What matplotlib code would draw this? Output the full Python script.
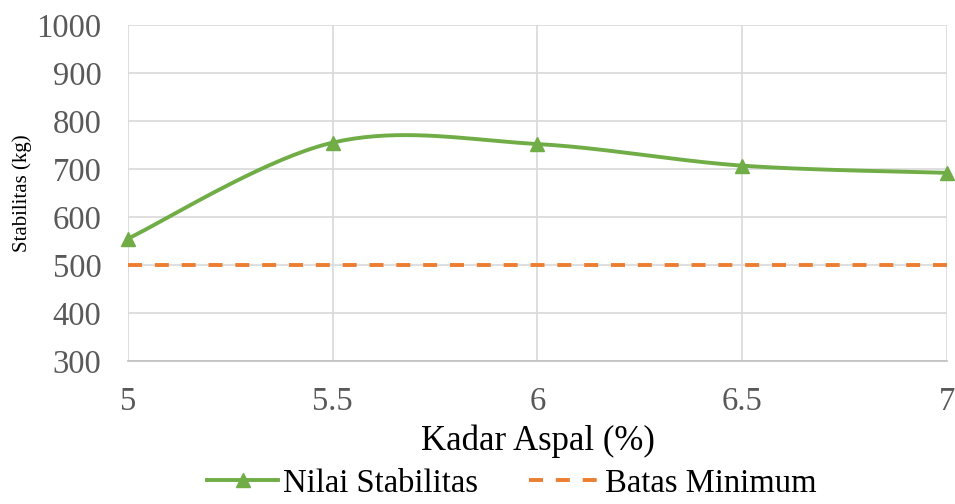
import numpy as np
import matplotlib
matplotlib.use("Agg")
import matplotlib.pyplot as plt
from matplotlib.lines import Line2D

kadar = [5, 5.5, 6, 6.5, 7]
stabilitas = [555, 755, 752, 707, 692]
batas_min = [500, 500, 500, 500, 500]
yticks = [300, 400, 500, 600, 700, 800, 900, 1000]
xticks = [5, 5.5, 6, 6.5, 7]

plt.rcParams['font.family'] = ['Liberation Serif', 'DejaVu Serif']

def smooth(xs, ys, n=40):
    P = np.column_stack([xs, ys]).astype(float)
    Pe = np.vstack([P[0], P, P[-1]])
    out = []
    for i in range(len(P) - 1):
        p0, p1, p2, p3 = Pe[i], Pe[i + 1], Pe[i + 2], Pe[i + 3]
        c1 = p1 + (p2 - p0) / 6
        c2 = p2 - (p3 - p1) / 6
        t = np.linspace(0, 1, n)[:, None]
        seg = (1 - t) ** 3 * p1 + 3 * (1 - t) ** 2 * t * c1 + 3 * (1 - t) * t ** 2 * c2 + t ** 3 * p2
        out.append(seg if i == 0 else seg[1:])
    s = np.vstack(out)
    return s[:, 0], s[:, 1]

fig = plt.figure(figsize=(9.55, 5.04), dpi=100)
ax = fig.add_axes([0.134, 0.2837, 0.8576, 0.6667])

green = '#70ad47'
orange = '#ed7d31'
dash = (0, (3.6, 3.3))

sx, sy = smooth(kadar, stabilitas)
ax.plot(sx, sy, color=green, lw=2.8, zorder=3, solid_capstyle='round')
ax.plot(kadar, stabilitas, ls='none', marker='^', ms=10, color=green, zorder=4, clip_on=False)
ax.plot(kadar, batas_min, color=orange, lw=2.8, ls=dash, zorder=3)

ax.set_xlim(5, 7)
ax.set_ylim(300, 1000)
ax.set_xticks(xticks)
ax.set_xticklabels(['5', '5.5', '6', '6.5', '7'])
ax.set_yticks(yticks)
ax.grid(True, color='#d9d9d9', lw=1.2)
ax.set_axisbelow(True)
for s in ['top', 'right']:
    ax.spines[s].set_visible(False)
ax.spines['left'].set_visible(False)
ax.spines['bottom'].set_color('#bfbfbf')
ax.spines['bottom'].set_linewidth(1.2)
ax.tick_params(length=0, labelsize=23.5, colors='#595959')
ax.tick_params(axis='y', pad=19)
ax.tick_params(axis='x', pad=18)

ax.set_xlabel('Kadar Aspal (%)', fontsize=25, color='black', labelpad=6)
ax.set_ylabel('Stabilitas (kg)', fontsize=15, color='black', labelpad=3)

handles = [Line2D([], [], color=green, lw=2.8, marker='^', ms=10),
           Line2D([], [], color=orange, lw=2.8, ls=dash)]
fig.legend(handles, ['Nilai Stabilitas', 'Batas Minimum'], loc='lower center',
           bbox_to_anchor=(0.536, -0.048), ncol=2, frameon=False, fontsize=23.5,
           handlelength=2.17, handletextpad=0.15, columnspacing=1.56)

fig.savefig('out.png', dpi=100)
